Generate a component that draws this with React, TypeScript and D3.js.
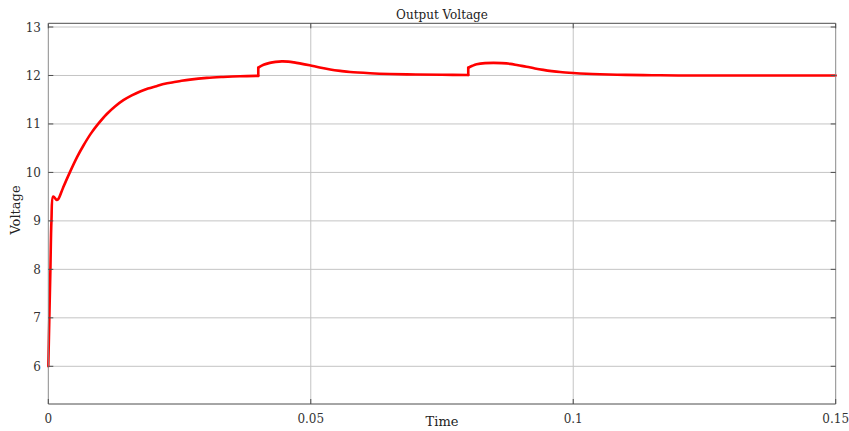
import React from "react";
import * as d3 from "d3";

const title = "Output Voltage";
const xLabel = "Time";
const yLabel = "Voltage";
const xTicks = [0, 0.05, 0.1, 0.15];
const xTickLabels = ["0", "0.05", "0.1", "0.15"];
const yTicks = [6, 7, 8, 9, 10, 11, 12, 13];

// Start-up segment (0 .. 0.04 s)
const timesA = [
  0, 0.0002, 0.0004, 0.0006, 0.0009, 0.0012, 0.0016, 0.0019, 0.0028, 0.0041,
  0.0055, 0.00667, 0.0081, 0.0095, 0.0111, 0.0127, 0.0143, 0.0159, 0.0175,
  0.019, 0.0206, 0.0222, 0.0238, 0.0254, 0.027, 0.0302, 0.0333, 0.0365, 0.04,
];
const voltsA = [
  6.0, 7.0, 8.0, 9.0, 9.5, 9.48, 9.43, 9.45, 9.68, 10.0,
  10.32, 10.55, 10.8, 11.0, 11.2, 11.36, 11.49, 11.59, 11.67,
  11.73, 11.78, 11.83, 11.86, 11.89, 11.915, 11.95, 11.97, 11.985, 11.992,
];
// After first load step (0.04 .. 0.08 s)
const timesB = [
  0.04, 0.041, 0.0422, 0.0433, 0.0445, 0.0457, 0.0468, 0.0479, 0.0498,
  0.0517, 0.0537, 0.0556, 0.0575, 0.0613, 0.065, 0.07, 0.075, 0.08,
];
const voltsB = [
  12.16, 12.22, 12.26, 12.28, 12.29, 12.285, 12.27, 12.25, 12.21,
  12.165, 12.125, 12.095, 12.07, 12.045, 12.03, 12.02, 12.014, 12.01,
];
// After second load step (0.08 .. 0.15 s)
const timesC = [
  0.08, 0.0808, 0.0816, 0.0832, 0.0848, 0.0864, 0.088, 0.0895, 0.0911,
  0.0927, 0.0943, 0.0959, 0.0975, 0.1, 0.1025, 0.1051, 0.11, 0.115, 0.12,
  0.13, 0.14, 0.15,
];
const voltsC = [
  12.16, 12.2, 12.23, 12.255, 12.26, 12.255, 12.24, 12.21, 12.18,
  12.145, 12.115, 12.09, 12.07, 12.05, 12.035, 12.025, 12.012, 12.005, 12.0,
  12.0, 12.0, 12.0,
];

const W = 849;
const H = 431;
const left = 48.3;
const right = 835.7;
const top = 23.3;
const bottom = 404;

export default function App() {
  const x = d3.scaleLinear().domain([0, 0.15]).range([left, right]);
  const y = d3.scaleLinear().domain([6, 13]).range([366.3, 27]);
  const line = d3
    .line<[number, number]>()
    .x((d) => x(d[0]))
    .y((d) => y(d[1]))
    .curve(d3.curveCatmullRom.alpha(0.5));
  const seg = (ts: number[], vs: number[]) =>
    line(ts.map((t, i) => [t, vs[i]] as [number, number])) || "";
  const segments = [seg(timesA, voltsA), seg(timesB, voltsB), seg(timesC, voltsC)];
  const jumps = [
    [timesA[timesA.length - 1], voltsA[voltsA.length - 1], voltsB[0]],
    [timesB[timesB.length - 1], voltsB[voltsB.length - 1], voltsC[0]],
  ];

  const font = "'DejaVu Serif', serif";
  const grid = "#c4c4c4";
  const axis = "#4d4d4d";
  const red = "#ff0000";

  return (
    <svg
      width={W}
      height={H}
      style={{ position: "absolute", left: 0, top: 0, background: "#fff" }}
    >
      {yTicks.map((v) => (
        <line key={"gy" + v} x1={left} x2={right} y1={y(v)} y2={y(v)} stroke={grid} strokeWidth={1} />
      ))}
      {xTicks.slice(1, -1).map((v) => (
        <line key={"gx" + v} x1={x(v)} x2={x(v)} y1={top} y2={bottom} stroke={grid} strokeWidth={1} />
      ))}
      {segments.map((d, i) => (
        <path key={"s" + i} d={d} fill="none" stroke={red} strokeWidth={2.6} strokeLinejoin="round" strokeLinecap="round" />
      ))}
      {jumps.map((j, i) => (
        <line key={"j" + i} x1={x(j[0])} x2={x(j[0])} y1={y(j[1])} y2={y(j[2])} stroke={red} strokeWidth={2.6} strokeLinecap="round" />
      ))}
      <line x1={left} x2={right} y1={top} y2={top} stroke={axis} strokeWidth={1} />
      <line x1={left} x2={right} y1={bottom} y2={bottom} stroke={axis} strokeWidth={1} />
      <line x1={left} x2={left} y1={top} y2={bottom} stroke="#8a8a8a" strokeWidth={1} />
      <line x1={right} x2={right} y1={top} y2={bottom} stroke="#8a8a8a" strokeWidth={1} />
      {yTicks.map((v) => (
        <g key={"ty" + v}>
          <line x1={left} x2={left + 5} y1={y(v)} y2={y(v)} stroke={axis} />
          <line x1={right - 5} x2={right} y1={y(v)} y2={y(v)} stroke={axis} />
          <text x={41} y={y(v) + 4.5} textAnchor="end" fontFamily={font} fontSize={12} fill="#333">
            {v}
          </text>
        </g>
      ))}
      {xTicks.map((v, i) => (
        <g key={"tx" + v}>
          <line x1={x(v)} x2={x(v)} y1={bottom} y2={bottom - 5} stroke={axis} />
          <line x1={x(v)} x2={x(v)} y1={top} y2={top + 5} stroke={axis} />
          <text x={x(v)} y={422.5} textAnchor="middle" fontFamily={font} fontSize={12} fill="#333">
            {xTickLabels[i]}
          </text>
        </g>
      ))}
      <text x={442} y={18.5} textAnchor="middle" fontFamily={font} fontSize={12} fill="#222">
        {title}
      </text>
      <text x={442} y={426} textAnchor="middle" fontFamily={font} fontSize={13} fill="#222">
        {xLabel}
      </text>
      <text transform="translate(20,210) rotate(-90)" textAnchor="middle" fontFamily={font} fontSize={13} fill="#222">
        {yLabel}
      </text>
    </svg>
  );
}
